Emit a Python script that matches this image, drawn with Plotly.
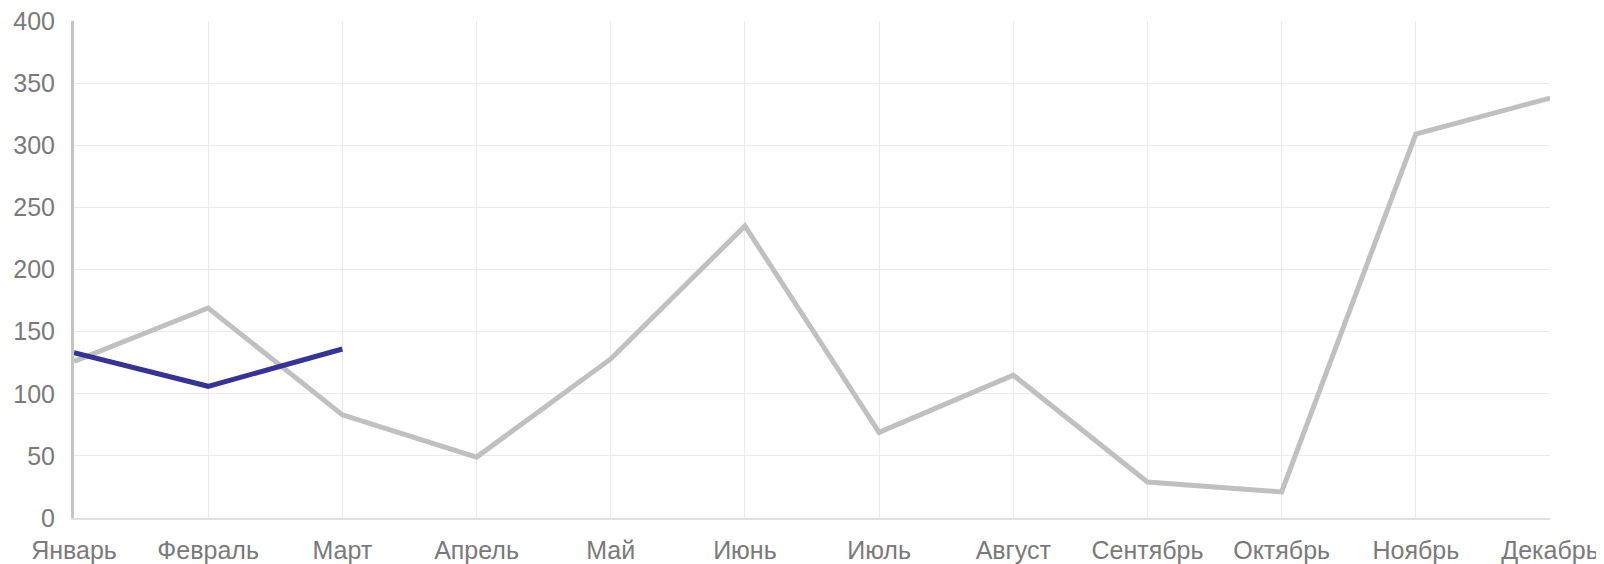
import plotly.graph_objects as go

months = ["Январь", "Февраль", "Март", "Апрель", "Май", "Июнь", "Июль",
          "Август", "Сентябрь", "Октябрь", "Ноябрь", "Декабрь"]
series_prev = [126, 169, 83, 49, 128, 235, 69, 115, 29, 21, 309, 338]
series_curr = [133, 106, 136]
y_ticks = [0, 50, 100, 150, 200, 250, 300, 350, 400]

fig = go.Figure()
fig.add_trace(go.Scatter(x=months, y=series_prev, mode="lines",
                         line=dict(color="#c0c0c0", width=5), showlegend=False))
fig.add_trace(go.Scatter(x=months[:len(series_curr)], y=series_curr, mode="lines",
                         line=dict(color="#35339a", width=5), showlegend=False))

yfont = dict(family="Liberation Sans, Arial, sans-serif", size=25, color="#7a7a7a")
xfont = dict(family="Liberation Sans, Arial, sans-serif", size=25, color="#7a7a7a")
# page body keeps its default 8px margin; size the figure so nothing overflows
fig.update_layout(
    template="none",
    width=1596, height=556,
    margin=dict(l=66, r=54, t=13, b=46, autoexpand=False),
    plot_bgcolor="white", paper_bgcolor="white",
    font=yfont,
    xaxis=dict(type="category", range=[0, 11], showgrid=True, gridcolor="#ebebeb",
               gridwidth=1, showline=True, linecolor="#e0e0e0", linewidth=2,
               ticks="outside", ticklen=9, tickcolor="rgba(0,0,0,0)",
               zeroline=False, tickfont=xfont, categoryorder="array",
               categoryarray=months, automargin=False,
               ticklabeloverflow="allow"),
    yaxis=dict(range=[0, 400], tickvals=y_ticks, showgrid=True, gridcolor="#ebebeb",
               gridwidth=1, showline=True, linecolor="#c4c4c4", linewidth=3,
               ticks="outside", ticklen=11, tickcolor="rgba(0,0,0,0)",
               zeroline=False, tickfont=yfont, automargin=False,
               ticklabeloverflow="allow"),
)
fig.write_html("out.html")
